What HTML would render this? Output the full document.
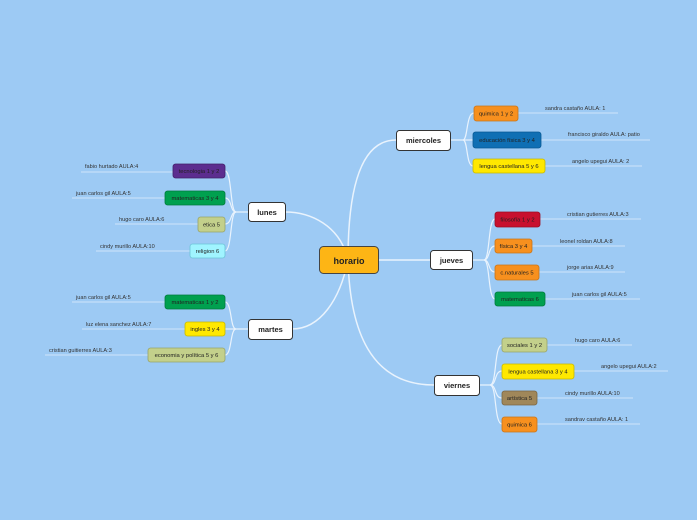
<!DOCTYPE html>
<html><head><meta charset="utf-8"><style>
body{margin:0;width:697px;height:520px;background:#9dcaf4;overflow:hidden}
svg{display:block}
text{font-family:"Liberation Sans","DejaVu Sans",sans-serif}
.l{font-size:5.6px;fill:#333;white-space:pre}
.n{font-size:5.8px;fill:#222}
.c{fill:none;stroke:#e9f3fd;stroke-width:1.2}
.u{stroke:#cfe4fa;stroke-width:1}
</style></head><body>
<svg width="697" height="520" viewBox="0 0 697 520">
<g class="c" style="stroke-width:1.5">
<path d="M348,260 C348,190 360,140 396,140"/>
<path d="M348,260 L430,260"/>
<path d="M348,260 C350,330 370,385 434,385"/>
<path d="M348,260 C340,225 310,212 285,212"/>
<path d="M348,260 C340,300 320,329 292,329"/>
</g>
<g class="c">
<path d="M450,140 L463,140 C468,140 466,113 474,113"/><path d="M463,140 L473,140"/><path d="M463,140 C468,140 466,166 473,166"/>
<path d="M472,260 L484,260 C490,260 488,219 495,219"/><path d="M484,260 C490,260 488,246 495,246"/><path d="M484,260 C490,260 488,272 495,272"/><path d="M484,260 C490,260 488,299 495,299"/>
<path d="M479,385 L490,385 C497,385 494,345 502,345"/><path d="M490,385 C497,385 494,371 502,371"/><path d="M490,385 C497,385 494,398 502,398"/><path d="M490,385 C497,385 494,424 502,424"/>
<path d="M248,212 L236,212 C230,212 232,171 225,171"/><path d="M236,212 C230,212 232,198 225,198"/><path d="M236,212 C230,212 232,224 225,224"/><path d="M236,212 C230,212 232,251 225,251"/>
<path d="M248,329 L236,329 C230,329 232,302 225,302"/><path d="M236,329 L225,329"/><path d="M236,329 C230,329 232,355 225,355"/>
</g>
<g class="u">
<line x1="518" y1="113" x2="618" y2="113"/><line x1="541" y1="140" x2="650" y2="140"/><line x1="545" y1="166" x2="642" y2="166"/>
<line x1="540" y1="219" x2="641" y2="219"/><line x1="532" y1="246" x2="625" y2="246"/><line x1="539" y1="272" x2="625" y2="272"/><line x1="545" y1="299" x2="640" y2="299"/>
<line x1="547" y1="345" x2="632" y2="345"/><line x1="574" y1="371" x2="668" y2="371"/><line x1="537" y1="398" x2="633" y2="398"/><line x1="537" y1="424" x2="640" y2="424"/>
<line x1="81" y1="172" x2="173" y2="172"/><line x1="72" y1="198" x2="165" y2="198"/><line x1="115" y1="224" x2="198" y2="224"/><line x1="96" y1="251" x2="190" y2="251"/>
<line x1="72" y1="302" x2="165" y2="302"/><line x1="82" y1="329" x2="185" y2="329"/><line x1="45" y1="355" x2="148" y2="355"/>
</g>
<g class="l">
<text x="545" y="110">sandra castaño  AULA: 1</text>
<text x="568" y="136">francisco giraldo  AULA: patio</text>
<text x="572" y="163">angelo upegui  AULA: 2</text>
<text x="567" y="216">cristian gutierres  AULA:3</text>
<text x="560" y="243">leonel roldan  AULA:8</text>
<text x="567" y="269">jorge arias  AULA:9</text>
<text x="572" y="296">juan carlos gil  AULA:5</text>
<text x="575" y="342">hugo caro  AULA:6</text>
<text x="601" y="368">angelo upegui  AULA:2</text>
<text x="565" y="395">cindy murillo  AULA:10</text>
<text x="565" y="421">sandrav castaño  AULA: 1</text>
<text x="85" y="168">fabio hurtado  AULA:4</text>
<text x="76" y="195">juan carlos gil  AULA:5</text>
<text x="119" y="221">hugo caro  AULA:6</text>
<text x="100" y="248">cindy murillo  AULA:10</text>
<text x="76" y="299">juan carlos gil  AULA:5</text>
<text x="86" y="326">luz elena sanchez  AULA:7</text>
<text x="49" y="352">cristian guitierres  AULA:3</text>
</g>
<g stroke-width="0.8">
<rect x="474" y="106" width="44" height="15" rx="2.5" fill="#f7901e" stroke="#c8741a"/>
<rect x="473" y="132" width="68" height="16" rx="2.5" fill="#0f6fb4" stroke="#0a5a94"/>
<rect x="473" y="159" width="72" height="14" rx="2.5" fill="#ffe800" stroke="#c8b800"/>
<rect x="495" y="212" width="45" height="15" rx="2.5" fill="#c8102e" stroke="#9a0c22"/>
<rect x="495" y="239" width="37" height="14" rx="2.5" fill="#f7901e" stroke="#c8741a"/>
<rect x="495" y="265" width="44" height="15" rx="2.5" fill="#f7901e" stroke="#c8741a"/>
<rect x="495" y="292" width="50" height="14" rx="2.5" fill="#00a04f" stroke="#007a3c"/>
<rect x="502" y="338" width="45" height="14" rx="2.5" fill="#c3d08b" stroke="#98a46a"/>
<rect x="502" y="364" width="72" height="15" rx="2.5" fill="#ffe800" stroke="#c8b800"/>
<rect x="502" y="391" width="35" height="14" rx="2.5" fill="#a0875a" stroke="#7a6644"/>
<rect x="502" y="417" width="35" height="15" rx="2.5" fill="#f7901e" stroke="#c8741a"/>
<rect x="173" y="164" width="52" height="14" rx="2.5" fill="#5c2d8f" stroke="#42206a"/>
<rect x="165" y="191" width="60" height="14" rx="2.5" fill="#00a04f" stroke="#007a3c"/>
<rect x="198" y="217" width="27" height="15" rx="2.5" fill="#c3d08b" stroke="#98a46a"/>
<rect x="190" y="244" width="35" height="14" rx="2.5" fill="#a0f4ff" stroke="#6cc4d8"/>
<rect x="165" y="295" width="60" height="14" rx="2.5" fill="#00a04f" stroke="#007a3c"/>
<rect x="185" y="322" width="40" height="14" rx="2.5" fill="#ffe800" stroke="#c8b800"/>
<rect x="148" y="348" width="77" height="14" rx="2.5" fill="#c3d08b" stroke="#98a46a"/>
</g>
<g class="n" text-anchor="middle">
<text x="496" y="115.5">quimica 1 y 2</text>
<text x="507" y="142">educación física 3 y 4</text>
<text x="509" y="168">lengua castellana 5 y 6</text>
<text x="517.5" y="221.5">filosofía 1 y 2</text>
<text x="513.5" y="248">física 3 y 4</text>
<text x="517" y="274.5">c.naturales 5</text>
<text x="520" y="301">matematicas 6</text>
<text x="524.5" y="347">sociales 1 y 2</text>
<text x="538" y="373.5">lengua castellana 3 y 4</text>
<text x="519.5" y="400">artística 5</text>
<text x="519.5" y="426.5">quimica 6</text>
<text x="199" y="173">tecnologia 1 y 2</text>
<text x="195" y="200">matematicas 3 y 4</text>
<text x="211.5" y="226.5">etica 5</text>
<text x="207.5" y="253">religion 6</text>
<text x="195" y="304">matematicas 1 y 2</text>
<text x="205" y="331">ingles 3 y 4</text>
<text x="186.5" y="357">economia y política 5 y 6</text>
</g>
<g fill="#fff" stroke="#333" stroke-width="1">
<rect x="396.5" y="130.5" width="54" height="20" rx="3"/>
<rect x="430.5" y="250.5" width="42" height="19" rx="3"/>
<rect x="434.5" y="375.5" width="45" height="20" rx="3"/>
<rect x="248.5" y="202.5" width="37" height="19" rx="3"/>
<rect x="248.5" y="319.5" width="44" height="20" rx="3"/>
</g>
<rect x="319.5" y="246.5" width="59" height="27" rx="4" fill="#fdb515" stroke="#444" stroke-width="1"/>
<g font-weight="bold" text-anchor="middle" fill="#222" font-size="7.5">
<text x="423.5" y="143">miercoles</text>
<text x="451.5" y="263">jueves</text>
<text x="457" y="388">viernes</text>
<text x="267" y="215">lunes</text>
<text x="270.5" y="332">martes</text>
<text x="349" y="264" font-size="9">horario</text>
</g>
</svg>
</body></html>
